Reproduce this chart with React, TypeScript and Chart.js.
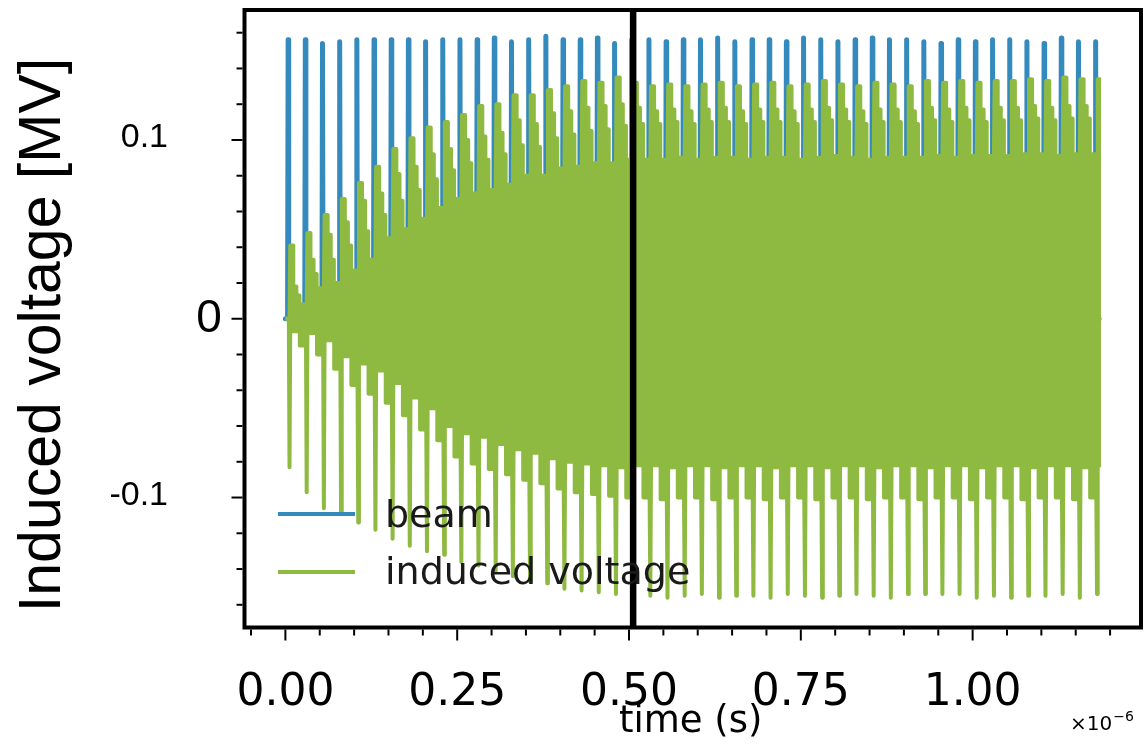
import React, { useEffect, useRef } from "react";
import { Chart, registerables } from "chart.js";

Chart.register(...registerables);

// ---- data (time in ns, voltage in MV) ----
const bunchTimesNs = [
  4, 29, 54, 79, 104, 129, 154, 179, 204, 229, 254, 279, 304, 329, 354, 379,
  404, 429, 454, 479, 504, 529, 554, 579, 604, 629, 654, 679, 704, 729, 754, 779,
  804, 829, 854, 879, 904, 929, 954, 979, 1004, 1029, 1054, 1079, 1104, 1129, 1154, 1179,
];
const recordEndNs = 1187;
const beamEndNs = 1184;

const beamPeak = [
  0.156, 0.156, 0.154, 0.155, 0.156, 0.156, 0.156, 0.156, 0.155,
  0.156, 0.156, 0.156, 0.157, 0.155, 0.156, 0.158, 0.156, 0.156, 0.157, 0.154,
  0.156, 0.156, 0.155, 0.156, 0.156, 0.157, 0.155, 0.156, 0.156, 0.155, 0.157, 0.156, 0.155, 0.156, 0.157, 0.156,
  0.156, 0.155, 0.154, 0.156, 0.155, 0.156, 0.156, 0.155, 0.154, 0.157, 0.155, 0.155,
];

// induced voltage: upper envelope levels after each bunch
const inducedPeak = [
  0.041, 0.048, 0.058, 0.067, 0.076, 0.085, 0.095, 0.101, 0.107,
  0.110, 0.114, 0.119, 0.120, 0.125, 0.125, 0.128, 0.130, 0.133, 0.132, 0.135,
  0.132, 0.130, 0.131, 0.130, 0.131, 0.132, 0.130, 0.131, 0.132, 0.130, 0.131, 0.133, 0.131, 0.130, 0.132, 0.131,
  0.130, 0.133, 0.132, 0.133, 0.132, 0.133, 0.133, 0.134, 0.133, 0.135, 0.134, 0.134,
];
const inducedStepA = [
  0.018, 0.033, 0.047, 0.054, 0.066, 0.070, 0.081, 0.085, 0.092,
  0.095, 0.100, 0.102, 0.104, 0.111, 0.109, 0.115, 0.116, 0.118, 0.119, 0.120,
  0.118, 0.116, 0.117, 0.116, 0.117, 0.118, 0.116, 0.117, 0.117, 0.116, 0.117, 0.118, 0.117, 0.116, 0.117, 0.117,
  0.116, 0.118, 0.117, 0.118, 0.117, 0.118, 0.118, 0.119, 0.118, 0.119, 0.119, 0.119,
];
const inducedStepB = [
  0.013, 0.025, 0.033, 0.041, 0.049, 0.058, 0.066, 0.072, 0.078,
  0.083, 0.087, 0.089, 0.092, 0.097, 0.096, 0.101, 0.103, 0.105, 0.106, 0.108,
  0.109, 0.109, 0.110, 0.109, 0.110, 0.110, 0.109, 0.110, 0.110, 0.109, 0.110, 0.111, 0.110, 0.109, 0.110, 0.110,
  0.109, 0.111, 0.110, 0.111, 0.110, 0.111, 0.111, 0.112, 0.111, 0.112, 0.112, 0.112,
];
const inducedEnd = [
  0.008, 0.017, 0.020, 0.027, 0.033, 0.045, 0.050, 0.056, 0.062,
  0.067, 0.070, 0.072, 0.075, 0.080, 0.080, 0.084, 0.085, 0.087, 0.087, 0.089,
  0.089, 0.089, 0.090, 0.089, 0.090, 0.090, 0.089, 0.090, 0.090, 0.089, 0.090, 0.091, 0.090, 0.089, 0.090, 0.090,
  0.090, 0.091, 0.090, 0.091, 0.091, 0.091, 0.092, 0.092, 0.091, 0.092, 0.092, 0.092,
];
// induced voltage: lower envelope levels
const inducedFloor = [
  -0.007, -0.008, -0.012, -0.021, -0.025, -0.029, -0.036, -0.044, -0.050,
  -0.060, -0.064, -0.066, -0.070, -0.073, -0.075, -0.078, -0.080, -0.081, -0.082, -0.083,
  -0.082, -0.082, -0.083, -0.082, -0.082, -0.083, -0.082, -0.082, -0.083, -0.082, -0.082, -0.083, -0.082, -0.082, -0.083, -0.082,
  -0.082, -0.083, -0.082, -0.082, -0.083, -0.082, -0.082, -0.083, -0.082, -0.082, -0.083, -0.082,
];
const inducedDip = [
  -0.015, -0.020, -0.028, -0.037, -0.042, -0.047, -0.054, -0.062, -0.068,
  -0.077, -0.081, -0.084, -0.087, -0.090, -0.092, -0.095, -0.097, -0.098, -0.099, -0.100,
  -0.100, -0.101, -0.100, -0.100, -0.101, -0.100, -0.100, -0.101, -0.100, -0.100, -0.101, -0.100, -0.100, -0.101, -0.100, -0.100,
  -0.101, -0.100, -0.100, -0.101, -0.100, -0.100, -0.101, -0.100, -0.100, -0.101, -0.100, -0.100,
];
const inducedSpike = [
  -0.083, -0.097, -0.106, -0.109, -0.114, -0.118, -0.123, -0.127, -0.130,
  -0.132, -0.136, -0.138, -0.141, -0.144, -0.147, -0.148, -0.151, -0.152, -0.153, -0.154,
  -0.155, -0.155, -0.156, -0.155, -0.154, -0.156, -0.155, -0.155, -0.156, -0.154, -0.155, -0.156, -0.155, -0.154, -0.155, -0.156,
  -0.154, -0.154, -0.154, -0.154, -0.156, -0.155, -0.156, -0.155, -0.155, -0.154, -0.156, -0.154,
];

// axes (x in units of 1e-6 s)
const xMajorTicks = [0, 0.25, 0.5, 0.75, 1.0];
const xTickLabels = ["0.00", "0.25", "0.50", "0.75", "1.00"];
const xMinorTicks = [-0.05, 0.05, 0.1, 0.15, 0.2, 0.3, 0.35, 0.4, 0.45, 0.55, 0.6, 0.65, 0.7, 0.8, 0.85, 0.9, 0.95, 1.05, 1.1, 1.15, 1.2];
const yMajorTicks = [0.1, 0, -0.1];
const yTickLabels = ["0.1", "0", "-0.1"];
const yMinorTicks = [0.16, 0.14, 0.12, 0.08, 0.06, 0.04, 0.02, -0.02, -0.04, -0.06, -0.08, -0.12, -0.14, -0.16];
const markerTimeUs = 0.506;
const xRange = [-0.0595, 1.245];
const yRange = [-0.1727, 0.1727];

const BLUE = "#348ABD";
const GREEN = "#8EBA42";

type P = { x: number; y: number };

function buildBeam(): P[] {
  const pts: P[] = [{ x: 0, y: 0 }];
  bunchTimesNs.forEach((t, k) => {
    pts.push({ x: (t - 0.8) / 1000, y: 0 }, { x: t / 1000, y: beamPeak[k] }, { x: (t + 0.8) / 1000, y: 0 });
  });
  pts.push({ x: beamEndNs / 1000, y: 0 });
  return pts;
}

function buildUpper(): P[] {
  const pts: P[] = [{ x: 0, y: 0 }];
  const n = bunchTimesNs.length;
  bunchTimesNs.forEach((t, k) => {
    const prev = k === 0 ? 0 : inducedEnd[k - 1];
    pts.push({ x: (t + 2) / 1000, y: prev }, { x: (t + 3) / 1000, y: inducedPeak[k] });
    if (k === n - 1) {
      pts.push({ x: recordEndNs / 1000, y: inducedPeak[k] });
      return;
    }
    pts.push(
      { x: (t + 7.5) / 1000, y: inducedPeak[k] },
      { x: (t + 7.5) / 1000, y: inducedStepA[k] },
      { x: (t + 12) / 1000, y: inducedStepA[k] },
      { x: (t + 12) / 1000, y: inducedStepB[k] },
      { x: (t + 16.5) / 1000, y: inducedStepB[k] },
      { x: (t + 16.5) / 1000, y: inducedEnd[k] }
    );
  });
  return pts;
}

function buildLower(): P[] {
  const pts: P[] = [{ x: 0, y: 0 }];
  const n = bunchTimesNs.length;
  bunchTimesNs.forEach((t, k) => {
    const prev = k === 0 ? 0 : inducedDip[k - 1];
    pts.push(
      { x: (t + 1) / 1000, y: prev },
      { x: (t + 2) / 1000, y: inducedSpike[k] },
      { x: (t + 3) / 1000, y: inducedFloor[k] }
    );
    if (k === n - 1) {
      pts.push({ x: recordEndNs / 1000, y: inducedFloor[k] });
      return;
    }
    pts.push({ x: (t + 17) / 1000, y: inducedFloor[k] }, { x: (t + 17) / 1000, y: inducedDip[k] });
  });
  return pts;
}

const decorPlugin = {
  id: "decor",
  afterDatasetsDraw(chart: any) {
    const { ctx, chartArea, scales } = chart;
    const { left, right, top, bottom } = chartArea;
    const xs = scales.x;
    const ys = scales.y;
    ctx.save();
    ctx.strokeStyle = "#000";
    ctx.fillStyle = "#000";

    // marker line
    const mx = xs.getPixelForValue(markerTimeUs);
    ctx.lineWidth = 6.5;
    ctx.beginPath();
    ctx.moveTo(mx, top);
    ctx.lineTo(mx, bottom);
    ctx.stroke();

    // frame
    ctx.lineWidth = 4;
    ctx.strokeRect(left, top, right - left, bottom - top);

    // ticks
    ctx.lineWidth = 2;
    const line = (x1: number, y1: number, x2: number, y2: number) => {
      ctx.beginPath();
      ctx.moveTo(x1, y1);
      ctx.lineTo(x2, y2);
      ctx.stroke();
    };
    xMajorTicks.forEach((v) => {
      const px = xs.getPixelForValue(v);
      line(px, bottom + 2, px, bottom + 13);
    });
    xMinorTicks.forEach((v) => {
      const px = xs.getPixelForValue(v);
      line(px, bottom + 2, px, bottom + 8);
    });
    yMajorTicks.forEach((v) => {
      const py = ys.getPixelForValue(v);
      line(left - 2, py, left - 13, py);
    });
    yMinorTicks.forEach((v) => {
      const py = ys.getPixelForValue(v);
      line(left - 2, py, left - 8, py);
    });

    // x tick labels
    ctx.font = '44px "DejaVu Sans"';
    ctx.textAlign = "center";
    ctx.textBaseline = "alphabetic";
    xMajorTicks.forEach((v, i) => {
      ctx.fillText(xTickLabels[i], xs.getPixelForValue(v), bottom + 77);
    });

    // x title
    ctx.font = '37px "DejaVu Sans"';
    ctx.textBaseline = "alphabetic";
    ctx.fillText("time (s)", (left + right) / 2 - 2, bottom + 104);

    // offset text
    ctx.textAlign = "left";
    ctx.font = '20px "DejaVu Sans"';
    ctx.fillText("\u00d710", 1070, bottom + 102);
    const w = ctx.measureText("\u00d710").width;
    ctx.font = '14px "DejaVu Sans"';
    ctx.fillText("\u22126", 1070 + w + 1, bottom + 93);

    // y tick labels
    yMajorTicks.forEach((v, i) => {
      const py = ys.getPixelForValue(v);
      ctx.textBaseline = "middle";
      if (v === 0) {
        ctx.font = '46px "Liberation Sans"';
        ctx.textAlign = "center";
        ctx.fillText(yTickLabels[i], 209, py + 1);
      } else {
        ctx.font = '34px "Liberation Sans"';
        ctx.textAlign = "right";
        ctx.fillText(yTickLabels[i], 168, py - 2);
      }
    });

    // y title
    ctx.save();
    ctx.translate(44, 335);
    ctx.rotate(-Math.PI / 2);
    ctx.font = '59px "Liberation Sans"';
    ctx.textAlign = "center";
    ctx.textBaseline = "middle";
    ctx.fillText("Induced voltage [MV]", 0, 0);
    ctx.restore();

    // legend
    ctx.lineWidth = 4;
    ctx.strokeStyle = BLUE;
    line(278, 514, 355, 514);
    ctx.strokeStyle = GREEN;
    line(278, 572, 355, 572);
    ctx.fillStyle = "#1a1a1a";
    ctx.font = '38px "DejaVu Sans"';
    ctx.textAlign = "left";
    ctx.textBaseline = "alphabetic";
    ctx.fillText("beam", 385, 527);
    ctx.fillText("induced voltage", 385, 584);

    ctx.restore();
  },
};

export default function App() {
  const ref = useRef<HTMLCanvasElement | null>(null);
  useEffect(() => {
    if (!ref.current) return;
    const chart = new Chart(ref.current, {
      type: "line",
      data: {
        datasets: [
          {
            label: "beam",
            data: buildBeam(),
            borderColor: BLUE,
            backgroundColor: BLUE,
            borderWidth: 5,
            pointRadius: 0,
            fill: false,
            tension: 0,
            order: 2,
            borderJoinStyle: "round",
            borderCapStyle: "round",
          },
          {
            label: "induced voltage",
            data: buildUpper(),
            borderColor: GREEN,
            backgroundColor: GREEN,
            borderWidth: 4,
            pointRadius: 0,
            fill: "+1",
            tension: 0,
            order: 1,
            borderJoinStyle: "round",
          },
          {
            label: "induced voltage (lower)",
            data: buildLower(),
            borderColor: GREEN,
            backgroundColor: GREEN,
            borderWidth: 4,
            pointRadius: 0,
            fill: false,
            tension: 0,
            order: 1,
            borderJoinStyle: "round",
          },
        ],
      } as any,
      options: {
        responsive: false,
        animation: false,
        layout: { padding: { left: 244.5, right: 7, top: 10, bottom: 122.5 } },
        scales: {
          x: { type: "linear", min: xRange[0], max: xRange[1], display: false },
          y: { type: "linear", min: yRange[0], max: yRange[1], display: false },
        },
        plugins: { legend: { display: false }, tooltip: { enabled: false } },
      } as any,
      plugins: [decorPlugin],
    });
    return () => chart.destroy();
  }, []);
  return (
    <div style={{ position: "absolute", left: 0, top: 0, width: 1148, height: 750, background: "#fff" }}>
      <canvas ref={ref} width={1148} height={750} style={{ display: "block" }} />
    </div>
  );
}
